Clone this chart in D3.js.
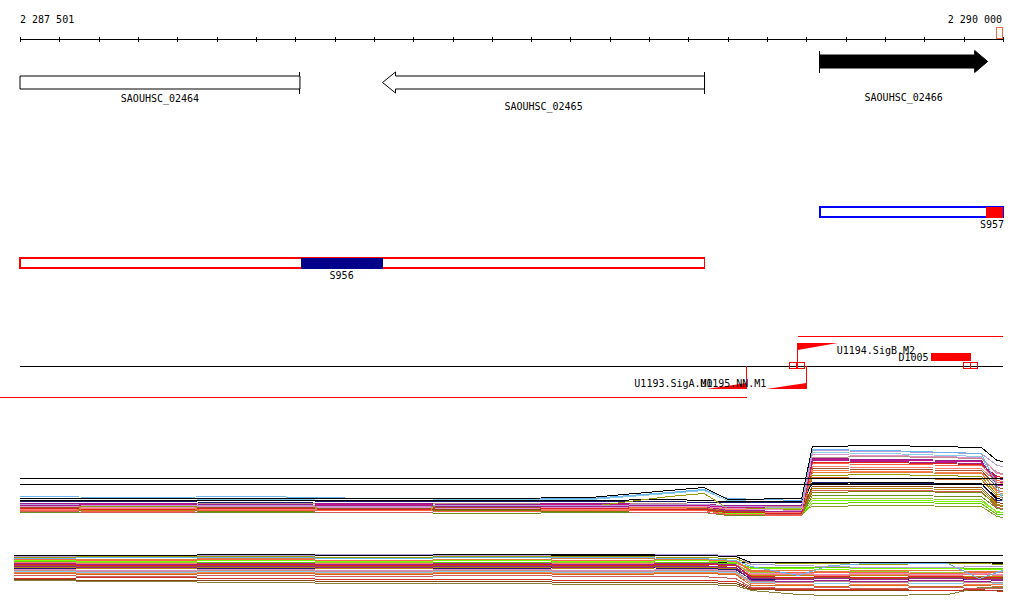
<!DOCTYPE html>
<html><head><meta charset="utf-8">
<script src="https://cdn.jsdelivr.net/npm/d3@7"></script>
<style>
body{margin:0;background:#fff;}
svg{display:block;}
text{font-family:"DejaVu Sans Mono",monospace;font-size:10px;fill:#000;}
</style>
</head><body>
<svg id="c" width="1024" height="611"></svg>
<script>
// ---------- data ----------
const viewStart = 2287500, viewEnd = 2290000;
const axisLabels = ["2 287 501", "2 290 000"];
const tickStep = 100;

const geneNames   = ["SAOUHSC_02464", "SAOUHSC_02465", "SAOUHSC_02466"];
const geneStarts  = [2287400, 2288422, 2289534];
const geneEnds    = [2288212, 2289241, 2289961];
const geneStrands = ["-", "-", "+"];
const geneFilled  = [false, false, true];

const featNames   = ["S957", "S956"];
const featStarts  = [2289534, 2287500];
const featEnds    = [2290000, 2289241];
const featColors  = ["#0000ff", "#ff0000"];
const featSubStarts = [2289958, 2288214];
const featSubEnds   = [2290000, 2288422];
const featSubColors = ["#ff0000", "#00008b"];

const tuNames   = ["U1193.SigA.M0", "U1195.NN.M1", "U1194.SigB.M2"];
const tuStarts  = [2289348, 2289500, 2289478];
const tuEnds    = [2287400, null, 2290100];
const tuStrands = ["-", "-", "+"];

const termName  = "D1005";
const termStart = 2289816, termEnd = 2289918;
const boxStarts = [2289458, 2289478, 2289900, 2289918];
const boxLen = 17;

// expression panel 1
const p1Positions = [2287500, 2287800, 2288100, 2288400, 2288700, 2288950, 2289150, 2289240, 2289300, 2289488, 2289515, 2289700, 2289945, 2289985, 2290000];
const p1RefLines = [42, 36];
const p1Colors = ["#000000","#6cb4ee","#b39ddb","#e58fc6","#a0218c","#dd2020","#ff6347","#fa8072","#a0522d","#e07b39","#9a9a00","#000000","#1a1a6e","#8b4513","#b8860b","#808000","#cd5c5c","#6b8e23","#7cfc00","#66cd00","#8a9a2a","#9b1c8e","#c71585","#ff7f50","#d2691e","#9acd32","#bc8f8f","#87ceeb"];
const p1Values = [
  [22,22,22,22,22,23,30,33,21,22,74,75,73,60,59],
  [24,23,24,22,22,22,28,31,22,20,71,70,67,35,20],
  [16,15,15,14,15,15,16,16,14,13,70,69,67,55,54],
  [14,13,14,13,12,13,14,14,12,10,66,65,63,47,46],
  [15,15,14,15,14,14,15,14,10,9,60,59,57,42,41],
  [12,11,12,11,12,12,11,11,8,7,58,58,56,44,43],
  [10,9,10,10,9,10,10,10,6,5,57,56,55,40,39],
  [11,12,11,11,12,11,12,11,8,8,54,53,52,38,37],
  [13,12,13,12,13,13,12,12,9,8,52,51,50,33,32],
  [12,13,12,13,12,12,13,12,10,9,48,48,47,30,29],
  [14,14,13,14,14,14,24,27,12,11,45,46,44,26,25],
  [20,20,20,20,20,20,21,20,19,19,37,38,37,22,21],
  [19,19,18,19,19,19,19,18,18,18,38,37,37,20,20],
  [12,11,12,11,11,11,12,11,10,9,34,34,33,18,17],
  [11,10,11,10,11,10,11,10,9,9,32,32,31,16,15],
  [10,10,9,10,10,9,10,10,8,8,28,29,28,15,14],
  [9,8,9,8,9,9,8,8,6,6,30,30,29,13,12],
  [8,8,8,8,7,8,8,8,5,5,25,25,24,12,11],
  [12,11,12,13,12,11,12,11,7,6,20,20,19,9,8],
  [11,12,11,12,11,12,11,11,6,5,17,18,17,6,6],
  [13,12,13,12,13,12,12,12,10,9,14,15,14,4,3],
  [17,17,16,17,16,17,16,16,15,15,62,61,60,35,35],
  [15,16,15,16,15,16,15,15,13,13,61,60,59,38,38],
  [13,13,14,13,13,14,13,13,11,11,50,49,48,28,27],
  [10,11,10,11,10,11,10,10,7,6,43,42,41,24,23],
  [14,13,14,13,14,13,14,13,13,12,22,22,21,8,8],
  [16,16,17,16,17,16,17,16,15,14,63,64,62,48,47],
  [20,20,21,20,21,21,27,30,20,18,68,67,64,30,25]
];

// expression panel 2
const p2Positions = [2287486, 2287800, 2288100, 2288400, 2288700, 2289000, 2289230, 2289320, 2289360, 2289480, 2289560, 2289660, 2289860, 2289940, 2290000];
const p2RefLines = [45, 38];
const p2Colors = ["#000000","#b39ddb","#6cb4ee","#9a9a00","#e07b39","#ff6347","#7cfc00","#66cd00","#a0218c","#9b1c8e","#dd2020","#fa8072","#a0522d","#1a1a6e","#b8860b","#e58fc6","#bc8f8f","#87ceeb","#ff7f50","#d2691e","#cd5c5c","#cc3322","#8b7d3a","#8b4513","#9acd32"];
const p2Values = [
  [45,45,46,45,46,46,45,44,38,38,38,38,38,38,37],
  [44,45,45,46,45,46,46,45,36,35,34,33,33,34,34],
  [42,43,43,42,43,43,42,40,34,25,35,37,37,22,30],
  [43,44,44,43,44,44,43,42,36,37,37,36,37,37,36],
  [42,41,42,42,41,42,41,40,30,30,29,30,30,29,29],
  [41,40,41,40,41,40,41,39,29,28,28,28,27,28,28],
  [40,39,40,39,40,39,40,38,32,32,31,32,32,31,31],
  [39,39,38,39,38,39,38,37,33,33,33,33,33,32,32],
  [37,36,37,36,37,36,37,36,22,21,22,21,22,21,21],
  [34,33,34,33,34,33,34,33,20,19,20,19,20,19,20],
  [36,35,36,35,36,35,36,35,24,23,24,23,24,23,23],
  [38,37,38,37,38,37,38,36,26,26,25,26,25,26,25],
  [35,34,35,34,35,34,35,33,23,22,23,22,23,22,22],
  [32,33,32,33,32,33,32,31,21,21,20,21,20,21,20],
  [33,32,33,32,33,32,33,32,25,25,24,25,24,24,24],
  [31,30,31,30,31,30,31,30,27,27,26,27,26,27,26],
  [30,29,30,29,30,29,30,29,19,18,19,18,19,18,18],
  [29,28,29,28,29,28,29,28,18,18,17,18,17,18,17],
  [28,27,28,27,28,27,28,27,17,16,17,16,17,16,16],
  [27,26,27,26,27,26,27,26,15,15,14,15,14,15,14],
  [25,24,25,24,25,24,24,22,13,12,13,12,13,12,12],
  [22,23,22,21,21,20,20,19,12,11,11,11,10,11,9],
  [20,19,18,17,17,16,16,15,10,6,5,5,6,13,13],
  [21,20,20,19,19,18,18,17,11,10,10,10,10,10,10],
  [38,38,37,38,37,38,37,36,28,28,28,29,28,28,28]
];

// ---------- drawing ----------
const svg = d3.select("#c");
const x = d3.scaleLinear().domain([viewStart, viewEnd]).range([20, 1003]);
const cx = v => Math.max(0, Math.min(1003, x(v)));
const gx = v => Math.max(20, Math.min(1003, x(v)));
const g = svg.append("g").attr("shape-rendering", "crispEdges");

// axis
const ticks = d3.range(viewStart, viewEnd + 1, tickStep);
const axB = d3.axisBottom(x).tickValues(ticks).tickSizeInner(3).tickSizeOuter(0).tickFormat("");
const axT = d3.axisTop(x).tickValues(ticks).tickSizeInner(2).tickSizeOuter(0).tickFormat("");
g.append("g").attr("transform", "translate(0,38.5)").call(axB);
g.append("g").attr("transform", "translate(0,38.5)").call(axT).select(".domain").remove();
svg.append("text").attr("x", x(viewStart)).attr("y", 23).text(axisLabels[0]);
svg.append("text").attr("x", x(viewEnd) - 1).attr("y", 23).attr("text-anchor", "end").text(axisLabels[1]);
g.append("rect").attr("x", x(viewEnd) - 6.5).attr("y", 27.5).attr("width", 6).attr("height", 11)
  .attr("fill", "none").attr("stroke", "#f06a4a");

// genes
geneNames.forEach((name, i) => {
  const s = geneStarts[i], e = geneEnds[i];
  const x0 = gx(s), x1 = gx(e);
  const filled = geneFilled[i];
  const yc = filled ? 61.5 : 82.5;
  const h = 6.5, hh = 11, headW = 13;
  let pts;
  if (geneStrands[i] === "-") {
    const headIn = s >= viewStart;
    if (headIn) {
      pts = [[x0, yc], [x0 + headW, yc - hh + 0.5], [x0 + headW, yc - h], [x1, yc - h], [x1, yc + h], [x0 + headW, yc + h], [x0 + headW, yc + hh - 0.5]];
    } else {
      pts = [[x0, yc - h], [x1, yc - h], [x1, yc + h], [x0, yc + h]];
    }
    g.append("line").attr("x1", x1).attr("x2", x1).attr("y1", yc - hh).attr("y2", yc + hh).attr("stroke", "#000");
  } else {
    pts = [[x0, yc - h], [x1 - headW, yc - h], [x1 - headW, yc - hh], [x1, yc], [x1 - headW, yc + hh], [x1 - headW, yc + h], [x0, yc + h]];
    g.append("line").attr("x1", x0).attr("x2", x0).attr("y1", yc - hh).attr("y2", yc + hh).attr("stroke", "#000");
  }
  svg.append("path").attr("d", d3.line()(pts) + "Z")
    .attr("fill", filled ? "#000" : "#fff").attr("stroke", "#000");
  const ly = filled ? 101 : (i === 1 ? 110 : 102);
  svg.append("text").attr("x", (x0 + x1) / 2).attr("y", ly).attr("text-anchor", "middle").text(name);
});

// features
const featY = [207, 258];
featNames.forEach((name, i) => {
  const y0 = featY[i];
  g.append("rect").attr("x", gx(featStarts[i])).attr("y", y0)
    .attr("width", gx(featEnds[i]) - gx(featStarts[i])).attr("height", 10)
    .attr("fill", "#fff").attr("stroke", featColors[i]).attr("stroke-width", 1.6);
  g.append("rect").attr("x", gx(featSubStarts[i])).attr("y", y0 - 0.5)
    .attr("width", gx(featSubEnds[i]) - gx(featSubStarts[i])).attr("height", 11)
    .attr("fill", featSubColors[i]);
  if (i === 0) {
    svg.append("text").attr("x", gx(featEnds[i]) + 1).attr("y", 228).attr("text-anchor", "end").text(name);
  } else {
    svg.append("text").attr("x", (gx(featSubStarts[i]) + gx(featSubEnds[i])) / 2).attr("y", 279).attr("text-anchor", "middle").text(name);
  }
});

// transcription units
const strandY = 366;
g.append("line").attr("x1", x(viewStart)).attr("x2", x(viewEnd)).attr("y1", strandY + 0.5).attr("y2", strandY + 0.5).attr("stroke", "#000");
const rampW = 40;
tuNames.forEach((name, i) => {
  const px = x(tuStarts[i]);
  if (tuStrands[i] === "-") {
    g.append("line").attr("x1", px).attr("x2", px).attr("y1", strandY).attr("y2", 389).attr("stroke", "#f00");
    svg.append("path").attr("d", d3.line()([[px - rampW, 389], [px, 383], [px, 389]]) + "Z").attr("fill", "#f00");
    if (tuEnds[i] !== null) {
      g.append("line").attr("x1", cx(tuEnds[i])).attr("x2", px).attr("y1", 397.5).attr("y2", 397.5).attr("stroke", "#f00");
    }
    svg.append("text").attr("x", px - rampW + (i === 0 ? 6 : 0)).attr("y", 387).attr("text-anchor", "end").text(name);
  } else {
    g.append("line").attr("x1", px).attr("x2", px).attr("y1", 343).attr("y2", strandY).attr("stroke", "#f00");
    svg.append("path").attr("d", d3.line()([[px, 343], [px + rampW, 343], [px, 350]]) + "Z").attr("fill", "#f00");
    if (tuEnds[i] !== null) {
      g.append("line").attr("x1", px).attr("x2", cx(tuEnds[i])).attr("y1", 336.5).attr("y2", 336.5).attr("stroke", "#f00");
    }
    svg.append("text").attr("x", px + rampW - 1).attr("y", 354).text(name);
  }
});
g.append("rect").attr("x", x(termStart)).attr("y", 353).attr("width", x(termEnd) - x(termStart)).attr("height", 8).attr("fill", "#f00");
svg.append("text").attr("x", x(termStart) - 2).attr("y", 361).attr("text-anchor", "end").text(termName);
boxStarts.forEach(b => {
  g.append("rect").attr("x", x(b)).attr("y", 362.5).attr("width", x(b + boxLen) - x(b)).attr("height", 6)
    .attr("fill", "none").attr("stroke", "#f00");
});

// expression panels
function panel(positions, values, colors, refs, yDomain, yRange, refsOnTop) {
  const y = d3.scaleLinear().domain(yDomain).range(yRange);
  const pg = g.append("g");
  const drawRefs = () => refs.forEach(r => {
    pg.append("line").attr("x1", x(positions[0])).attr("x2", x(viewEnd))
      .attr("y1", Math.round(y(r)) + 0.5).attr("y2", Math.round(y(r)) + 0.5).attr("stroke", "#000");
  });
  if (!refsOnTop) drawRefs();
  const line = d3.line().x((d, j) => x(positions[j])).y(d => Math.round(y(d)) + 0.5);
  for (let k = values.length - 1; k >= 0; k--) {
    pg.append("path").attr("d", line(values[k])).attr("fill", "none").attr("stroke", colors[k]).attr("stroke-width", 1);
  }
  if (refsOnTop) drawRefs();
}
panel(p1Positions, p1Values, p1Colors, p1RefLines, [0, 80], [520, 440], true);
panel(p2Positions, p2Values, p2Colors, p2RefLines, [0, 50], [600, 550], false);
</script>
</body></html>
